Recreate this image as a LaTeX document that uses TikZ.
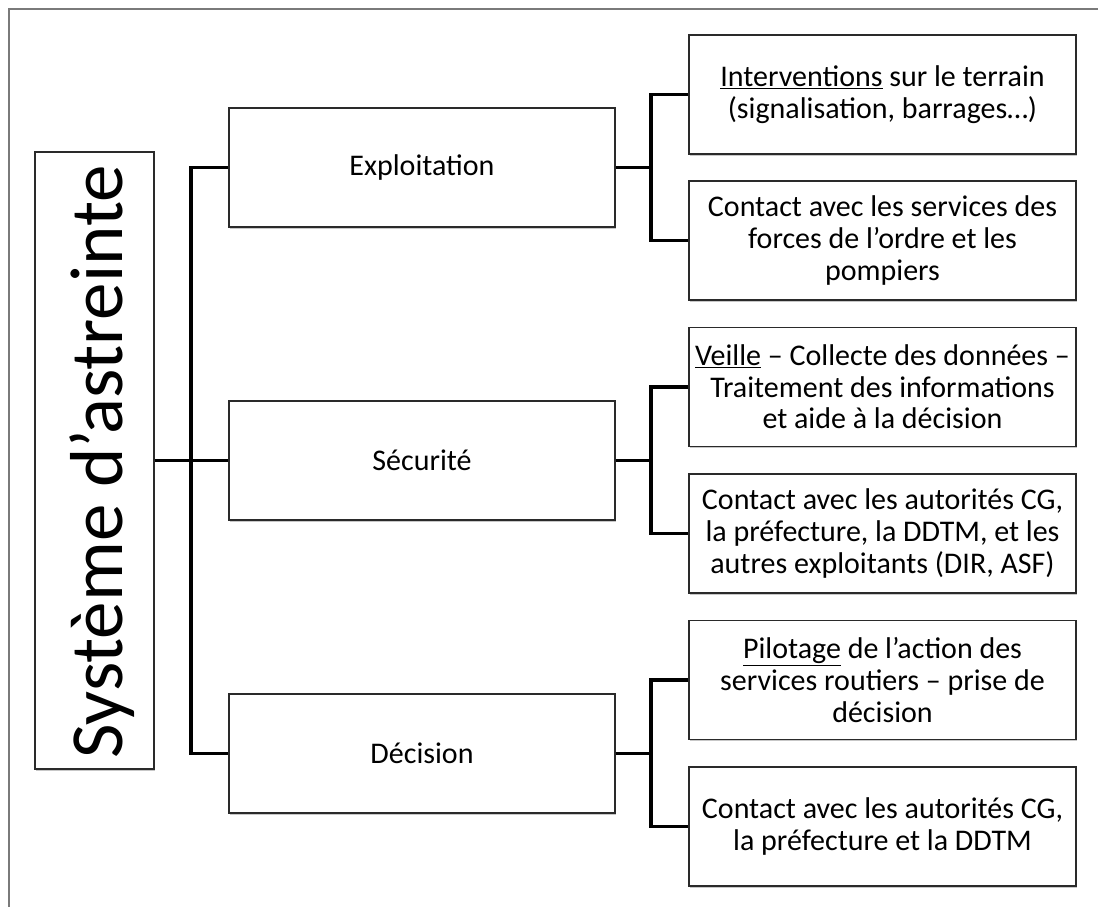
\documentclass[tikz,border=0pt]{standalone}
\usepackage{fontspec}
\setmainfont{Carlito}
\usetikzlibrary{shadows}
\definecolor{framegray}{HTML}{7A7A7A}
\definecolor{boxline}{HTML}{2A2A2A}
\tikzset{
  box/.style={draw=boxline, line width=1.3pt, fill=white, minimum width=386pt, minimum height=119pt,
    inner sep=0pt, align=center, font=\fontsize{30}{31.6}\selectfont,
    drop shadow={shadow xshift=1.2pt, shadow yshift=-1.6pt, opacity=.22, fill=black}},
  rbox/.style={box, minimum width=387pt},
  conn/.style={line width=3.8pt, line join=miter, draw=black},
}
\begin{document}
\begin{tikzpicture}[x=1pt,y=-1pt]
\useasboundingbox (0,0) rectangle (1098,907);
\draw[framegray, line width=2pt] (9,910) -- (9,9) -- (1100,9);

\node[box, minimum width=119pt, minimum height=617pt] (sys) at (94.5,460.5) {};
\node[rotate=90, anchor=base, inner sep=0pt, font=\fontsize{75}{75}\selectfont] (systxt) at (122,462) {Système d’astreinte};

\node[box] (expl) at (422,167.5) {Exploitation};
\node[box] (secu) at (422,460.5) {Sécurité};
\node[box] (deci) at (422,753.5) {Décision};

\node[rbox] (r1) at (882.5,94.5) {\underline{Interventions} sur le terrain\\(signalisation, barrages…)};
\node[rbox] (r2) at (882.5,240.5) {Contact avec les services des\\forces de l’ordre et les\\pompiers};
\node[rbox] (r3) at (882.5,387) {\underline{Veille} – Collecte des données –\\Traitement des informations\\et aide à la décision};
\node[rbox] (r4) at (882.5,533.5) {Contact avec les autorités CG,\\la préfecture, la DDTM, et les\\autres exploitants (DIR, ASF)};
\node[rbox] (r5) at (882.5,680) {\underline{Pilotage} de l’action des\\services routiers – prise de\\décision};
\node[rbox] (r6) at (882.5,826.5) {Contact avec les autorités CG,\\la préfecture et la DDTM};

% left tree
\draw[conn] (expl.west) -- ++(-37,0) |- (deci.west);
\draw[conn] (sys.east) -- (secu.west);
% right trees
\draw[conn] (r1.west) -- ++(-37,0) |- (r2.west);
\draw[conn] (expl.east) -- ++(37,0);
\draw[conn] (r3.west) -- ++(-37,0) |- (r4.west);
\draw[conn] (secu.east) -- ++(37,0);
\draw[conn] (r5.west) -- ++(-37,0) |- (r6.west);
\draw[conn] (deci.east) -- ++(37,0);
\end{tikzpicture}
\end{document}
